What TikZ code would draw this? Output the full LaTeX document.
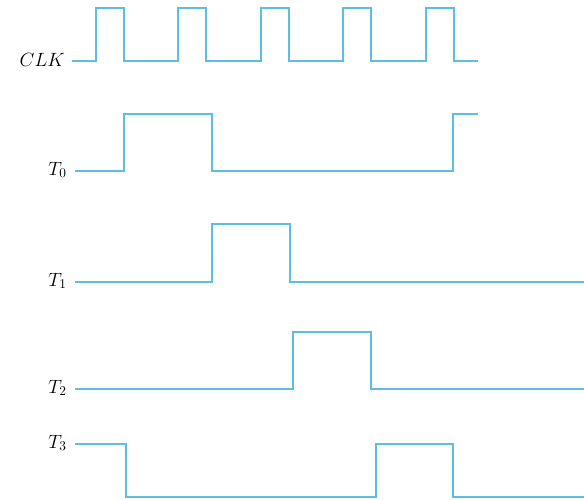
\documentclass[tikz,border=0pt]{standalone}
\usepackage{amsmath}
\usepackage{tikz}
\usetikzlibrary{positioning}
\definecolor{Wave}{HTML}{5DBDE6}

\begin{document}
\begin{tikzpicture}[
    x=0.75pt,y=-0.75pt,
    wave/.style={draw=Wave,line width=1.5pt,line join=miter},
    sig/.style={anchor=base east,inner sep=0pt,font=\fontsize{14.5}{17}\selectfont}
]
\useasboundingbox (0,0) rectangle (584,499);
% labels
\node[sig] (clk) at (65,67) {$CLK$};
\node[sig] (t0) at (67,175) {$T_0$};
\node[sig] (t1) at (67,286) {$T_1$};
\node[sig] (t2) at (67,393) {$T_2$};
\node[sig] (t3) at (67,448) {$T_3$};
% clock
\draw[wave] (72,61) foreach \r in {96,177.5,260.5,343,426}{
    -- (\r,61) -- (\r,8) -- (\r+28,8) -- (\r+28,61)} -- (478,61);
% timing signals
\draw[wave] (75,171) -- (124,171) -- (124,114) -- (212,114) -- (212,171)
    -- (453,171) -- (453,114) -- (478,114);
\draw[wave] (75,282) -- (212,282) -- (212,224) -- (290,224) -- (290,282) -- (584,282);
\draw[wave] (75,389) -- (293,389) -- (293,332) -- (371,332) -- (371,389) -- (584,389);
\draw[wave] (75,444) -- (126,444) -- (126,497) -- (376,497) -- (376,444)
    -- (453,444) -- (453,497) -- (584,497);
\end{tikzpicture}
\end{document}
